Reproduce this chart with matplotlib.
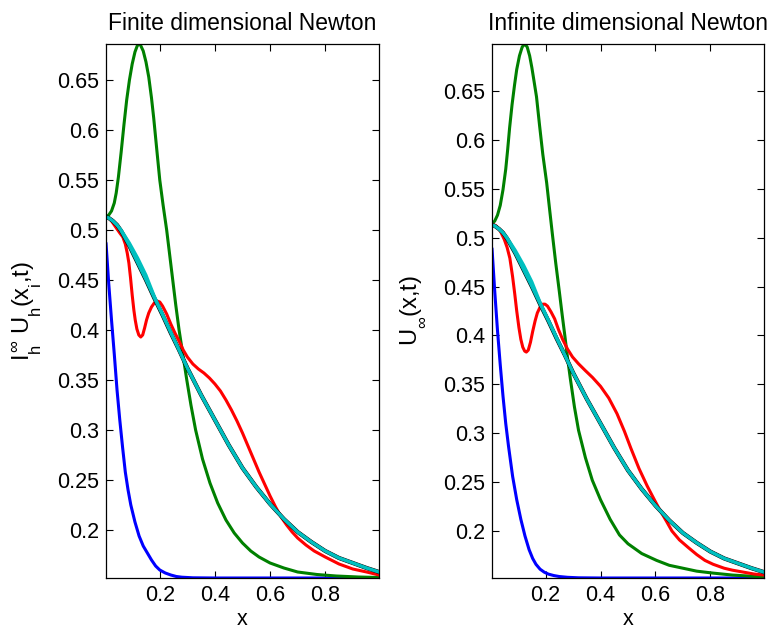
import matplotlib
matplotlib.use("Agg")
import matplotlib.pyplot as plt

try:
    import matplotlib._mathtext as _mt
    _mt.FontConstantsBase.sub1 = 0.9
    _mt.FontConstantsBase.sub2 = 0.9
except Exception:
    pass

plt.rcParams["font.family"] = ["Liberation Sans", "DejaVu Sans"]
plt.rcParams["mathtext.fontset"] = "custom"
plt.rcParams["mathtext.rm"] = "Liberation Sans"
plt.rcParams["mathtext.it"] = "Liberation Sans"
plt.rcParams["mathtext.bf"] = "Liberation Sans:bold"

# ---------------- finite dimensional Newton iterates ----------------
fin_blue_x = [0.005, 0.015, 0.025, 0.035, 0.045, 0.055, 0.065, 0.075, 0.085, 0.095, 0.11, 0.125, 0.14,
              0.155, 0.17, 0.185, 0.20, 0.22, 0.24, 0.26, 0.28, 0.32, 0.40, 0.60, 0.80, 0.995]
fin_blue_y = [0.487, 0.446, 0.410, 0.376, 0.340, 0.310, 0.283, 0.258, 0.240, 0.225, 0.208, 0.194, 0.184,
              0.177, 0.170, 0.164, 0.160, 0.157, 0.155, 0.1535, 0.1528, 0.1522, 0.152, 0.152, 0.152, 0.152]

fin_green_x = [0.005, 0.015, 0.025, 0.035, 0.042, 0.05, 0.06, 0.07, 0.08, 0.09, 0.10, 0.11, 0.118, 0.124,
               0.13, 0.14, 0.15, 0.16, 0.17, 0.178, 0.19, 0.20, 0.212, 0.225, 0.236, 0.247, 0.258, 0.27,
               0.284, 0.298, 0.313, 0.33, 0.355, 0.382, 0.41, 0.44, 0.47, 0.50, 0.53, 0.56, 0.60,
               0.65, 0.70, 0.77, 0.84, 0.92, 0.995]
fin_green_y = [0.513, 0.515, 0.519, 0.527, 0.537, 0.553, 0.578, 0.605, 0.630, 0.650, 0.666, 0.678, 0.684, 0.686,
               0.685, 0.679, 0.668, 0.653, 0.632, 0.612, 0.578, 0.550, 0.525, 0.500, 0.475, 0.450, 0.425, 0.400,
               0.375, 0.350, 0.325, 0.300, 0.271, 0.247, 0.227, 0.210, 0.197, 0.187, 0.179, 0.173, 0.167,
               0.162, 0.158, 0.1555, 0.154, 0.153, 0.1525]

fin_red_x = [0.005, 0.015, 0.025, 0.035, 0.045, 0.055, 0.066, 0.075, 0.082, 0.088, 0.094, 0.10, 0.106, 0.111,
             0.117, 0.124, 0.131, 0.138, 0.145, 0.152, 0.16, 0.17, 0.18, 0.19, 0.20, 0.21, 0.225, 0.24, 0.255,
             0.27, 0.285, 0.30, 0.32, 0.34, 0.36, 0.38, 0.40, 0.42, 0.44, 0.46, 0.48, 0.50, 0.52, 0.54, 0.56,
             0.58, 0.60, 0.62, 0.64, 0.66, 0.68, 0.70, 0.73, 0.76, 0.80, 0.85, 0.90, 0.95, 0.995]
fin_red_y = [0.513, 0.512, 0.509, 0.505, 0.501, 0.497, 0.493, 0.486, 0.477, 0.467, 0.452, 0.435, 0.420, 0.410,
             0.401, 0.395, 0.393, 0.395, 0.402, 0.410, 0.417, 0.423, 0.427, 0.429, 0.428, 0.424, 0.416, 0.406, 0.397,
             0.389, 0.380, 0.373, 0.366, 0.361, 0.357, 0.352, 0.346, 0.339, 0.330, 0.320, 0.309, 0.297, 0.284, 0.271,
             0.258, 0.246, 0.234, 0.223, 0.213, 0.205, 0.198, 0.192, 0.185, 0.179, 0.173, 0.166, 0.161, 0.158, 0.155]

# ---------------- infinite dimensional Newton iterates ----------------
inf_blue_x = [0.005, 0.015, 0.025, 0.035, 0.045, 0.055, 0.065, 0.08, 0.095, 0.11, 0.125, 0.14, 0.153, 0.165,
              0.18, 0.195, 0.21, 0.23, 0.25, 0.28, 0.32, 0.40, 0.60, 0.80, 0.995]
inf_blue_y = [0.489, 0.445, 0.405, 0.370, 0.338, 0.310, 0.287, 0.256, 0.232, 0.212, 0.195, 0.181, 0.172, 0.166,
              0.161, 0.158, 0.156, 0.1545, 0.1535, 0.1527, 0.1522, 0.152, 0.152, 0.152, 0.152]

inf_green_x = [0.005, 0.015, 0.025, 0.035, 0.045, 0.055, 0.062, 0.069, 0.078, 0.087, 0.095, 0.105, 0.115, 0.124,
               0.133, 0.142, 0.15, 0.158, 0.167, 0.178, 0.19, 0.204, 0.215, 0.225, 0.237, 0.25, 0.26, 0.27,
               0.28, 0.29, 0.305, 0.32, 0.345, 0.37, 0.40, 0.435, 0.469, 0.50, 0.55, 0.604, 0.65, 0.70,
               0.75, 0.81, 0.88, 0.94, 0.995]
inf_green_y = [0.514, 0.517, 0.523, 0.533, 0.549, 0.570, 0.590, 0.612, 0.636, 0.656, 0.672, 0.686, 0.695, 0.698,
               0.695, 0.686, 0.674, 0.660, 0.644, 0.615, 0.585, 0.556, 0.528, 0.503, 0.474, 0.445, 0.422, 0.400,
               0.377, 0.356, 0.327, 0.303, 0.275, 0.252, 0.232, 0.212, 0.196, 0.187, 0.177, 0.170, 0.165, 0.162,
               0.159, 0.157, 0.155, 0.154, 0.153]

inf_red_x = [0.005, 0.02, 0.035, 0.05, 0.06, 0.07, 0.08, 0.088, 0.095, 0.103, 0.11, 0.117, 0.124, 0.13, 0.137,
             0.145, 0.153, 0.162, 0.17, 0.18, 0.19, 0.198, 0.207, 0.22, 0.233, 0.247, 0.262, 0.28, 0.298, 0.32,
             0.345, 0.371, 0.40, 0.43, 0.46, 0.487, 0.51, 0.54, 0.57, 0.596, 0.615, 0.64, 0.66, 0.687, 0.72,
             0.75, 0.78, 0.81, 0.85, 0.88, 0.92, 0.96, 0.995]
inf_red_y = [0.514, 0.512, 0.507, 0.498, 0.490, 0.479, 0.460, 0.442, 0.425, 0.408, 0.396, 0.388, 0.384, 0.383, 0.385,
             0.393, 0.404, 0.415, 0.423, 0.429, 0.432, 0.432, 0.430, 0.424, 0.417, 0.406, 0.396, 0.386, 0.378, 0.371,
             0.364, 0.357, 0.348, 0.336, 0.320, 0.302, 0.285, 0.264, 0.246, 0.232, 0.222, 0.210, 0.200, 0.191, 0.183,
             0.176, 0.170, 0.166, 0.162, 0.160, 0.158, 0.156, 0.155]

# converged state (shared by both methods) and its previous iterate
conv_x = [0.005, 0.015, 0.03, 0.045, 0.06, 0.09, 0.12, 0.15, 0.18, 0.21, 0.24, 0.27, 0.30, 0.35, 0.40, 0.45,
          0.50, 0.55, 0.60, 0.65, 0.70, 0.75, 0.80, 0.85, 0.90, 0.95, 0.995]
conv_y = [0.513, 0.512, 0.509, 0.505, 0.499, 0.484, 0.467, 0.450, 0.432, 0.415, 0.397, 0.380, 0.362, 0.335,
          0.310, 0.285, 0.262, 0.243, 0.226, 0.211, 0.198, 0.188, 0.179, 0.172, 0.167, 0.162, 0.158]
prev_y = [0.513, 0.512, 0.509, 0.505, 0.500, 0.487, 0.472, 0.455, 0.434, 0.416, 0.398, 0.380, 0.362, 0.335,
          0.310, 0.285, 0.262, 0.243, 0.226, 0.211, 0.198, 0.188, 0.179, 0.172, 0.167, 0.162, 0.158]

x_ticks = [0.2, 0.4, 0.6, 0.8]
y_ticks = [0.2, 0.25, 0.3, 0.35, 0.4, 0.45, 0.5, 0.55, 0.6, 0.65]
x_limits = [0.005, 0.995]

BLUE = (0, 0, 1)
GREEN = (0, 0.5, 0)
RED = (1, 0, 0)
CYAN = (0, 0.75, 0.75)
LW = 2.2

fig = plt.figure(figsize=(7.70, 6.37), dpi=100)
ax1 = fig.add_axes([106 / 770, 59 / 637, 273 / 770, 534 / 637])
ax2 = fig.add_axes([492 / 770, 59 / 637, 272 / 770, 534 / 637])


def draw(ax, bx, by, gx, gy, rx, ry, title, ylabel, ylabel_x):
    kw = dict(lw=LW, solid_joinstyle="round", solid_capstyle="round")
    ax.plot(bx, by, color=BLUE, **kw)
    ax.plot(gx, gy, color=GREEN, **kw)
    ax.plot(rx, ry, color=RED, **kw)
    ax.plot(conv_x, conv_y, color="black", lw=LW + 0.8, solid_joinstyle="round")
    ax.plot(conv_x, prev_y, color=CYAN, **kw)
    ax.plot(conv_x, conv_y, color=CYAN, **kw)
    all_y = by + gy + ry + conv_y + prev_y
    ax.set_xlim(*x_limits)
    ax.set_ylim(min(all_y), max(all_y))
    ax.set_xticks(x_ticks)
    ax.set_xticklabels([f"{t:g}" for t in x_ticks])
    ax.set_yticks(y_ticks)
    ax.set_yticklabels([f"{t:g}" for t in y_ticks])
    ax.tick_params(direction="in", top=True, right=True, length=5, width=0.8,
                   labelsize=15.5, pad=5)
    for s in ax.spines.values():
        s.set_linewidth(0.9)
    ax.set_title(title, fontsize=16.5, pad=10)
    ax.set_xlabel("x", fontsize=15.5, labelpad=2)
    ax.set_ylabel(ylabel, fontsize=17)
    ax.yaxis.set_label_coords(ylabel_x, 0.5)


draw(ax1, fin_blue_x, fin_blue_y, fin_green_x, fin_green_y, fin_red_x, fin_red_y,
     "Finite dimensional Newton", r"$I_h^{\infty}\ U_h(x_i{,}t)$", -62 / 273)
draw(ax2, inf_blue_x, inf_blue_y, inf_green_x, inf_green_y, inf_red_x, inf_red_y,
     "Infinite dimensional Newton", r"$U_{\infty}(x{,}t)$", -65 / 272)

fig.savefig("out.png", dpi=100)
